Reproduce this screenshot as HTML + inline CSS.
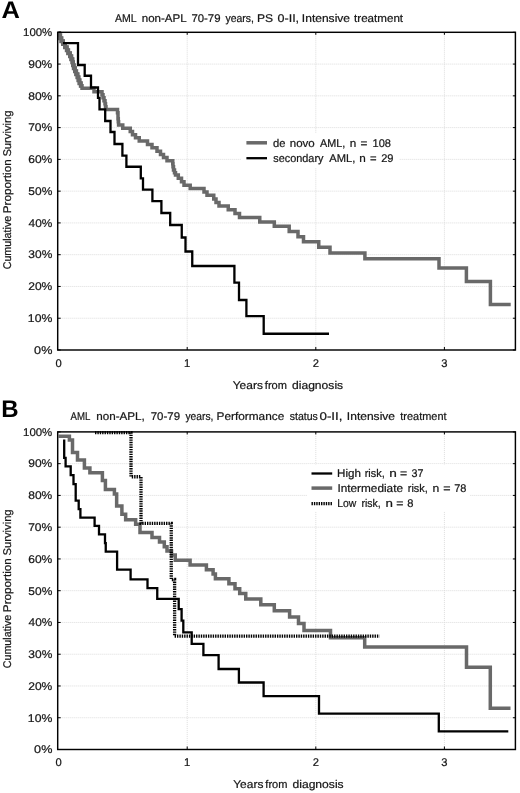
<!DOCTYPE html>
<html><head><meta charset="utf-8"><title>Kaplan-Meier survival curves</title>
<style>html,body{margin:0;padding:0;background:#fff}body{width:520px;height:793px;overflow:hidden;font-family:"Liberation Sans",sans-serif}svg{display:block;opacity:0.999;will-change:transform}text{stroke:#161616;stroke-width:.22px}</style>
</head><body>
<svg width="520" height="793" viewBox="0 0 520 793" font-family="Liberation Sans, sans-serif" font-size="11.2" fill="#161616" text-rendering="geometricPrecision">
<rect width="520" height="793" fill="#fff"/>
<line x1="57.7" x2="515.4" y1="64.07" y2="64.07" stroke="#dcdcdc" stroke-width="1" stroke-dasharray="1 1"/>
<line x1="57.7" x2="515.4" y1="95.84" y2="95.84" stroke="#dcdcdc" stroke-width="1" stroke-dasharray="1 1"/>
<line x1="57.7" x2="515.4" y1="127.61" y2="127.61" stroke="#dcdcdc" stroke-width="1" stroke-dasharray="1 1"/>
<line x1="57.7" x2="515.4" y1="159.38" y2="159.38" stroke="#dcdcdc" stroke-width="1" stroke-dasharray="1 1"/>
<line x1="57.7" x2="515.4" y1="191.15" y2="191.15" stroke="#dcdcdc" stroke-width="1" stroke-dasharray="1 1"/>
<line x1="57.7" x2="515.4" y1="222.92" y2="222.92" stroke="#dcdcdc" stroke-width="1" stroke-dasharray="1 1"/>
<line x1="57.7" x2="515.4" y1="254.69" y2="254.69" stroke="#dcdcdc" stroke-width="1" stroke-dasharray="1 1"/>
<line x1="57.7" x2="515.4" y1="286.46" y2="286.46" stroke="#dcdcdc" stroke-width="1" stroke-dasharray="1 1"/>
<line x1="57.7" x2="515.4" y1="318.23" y2="318.23" stroke="#dcdcdc" stroke-width="1" stroke-dasharray="1 1"/>
<line x1="187.2" x2="187.2" y1="32.3" y2="350.0" stroke="#dcdcdc" stroke-width="1" stroke-dasharray="1 1"/>
<line x1="315.8" x2="315.8" y1="32.3" y2="350.0" stroke="#dcdcdc" stroke-width="1" stroke-dasharray="1 1"/>
<line x1="444.4" x2="444.4" y1="32.3" y2="350.0" stroke="#dcdcdc" stroke-width="1" stroke-dasharray="1 1"/>
<rect x="241" y="133" width="158" height="35" fill="#fff"/>
<path d="M58.60,33.30V33.30H59.20V35.30H60.20V38.30H61.40V41.30H63.00V44.10H65.00V47.30H66.80V50.30H68.20V53.30H70.00V56.30H71.30V59.30H72.40V62.30H73.00V65.30H73.80V68.30H75.00V71.30H76.20V74.30H77.50V77.30H78.50V80.30H79.50V83.30H80.80V85.80H82.00" fill="none" stroke="#696969" stroke-width="4.0" stroke-linejoin="miter"/>
<path d="M58.60,33.30V33.30H59.20V35.30H60.20V38.30H61.40V41.30H63.00V44.10H65.00V47.30H66.80V50.30H68.20V53.30H70.00V56.30H71.30V59.30H72.40V62.30H73.00V65.30H73.80V68.30H75.00V71.30H76.20V74.30H77.50V77.30H78.50V80.30H79.50V83.30H80.80V85.80H82.00V88.30H94.00V91.80H102.00V94.80H103.00V97.80H104.00V100.80H105.00V103.80H105.50V106.80H106.00V109.60H117.50V112.80H118.00V115.80H118.00V118.80H118.30V121.80H118.60V125.05H122.75V128.30H130.25V131.50H132.50V134.80H135.50V137.80H139.25V141.10H147.50V144.55H152.00V147.80H157.00V151.30H160.50V154.50H163.50V157.60H167.00V160.80H172.75V163.80H173.00V166.80H173.50V170.05H174.50V172.80H175.50V175.05H178.30V178.30H181.50V181.80H184.00V185.30H190.20V188.55H204.00V192.00H207.00V195.30H213.75V199.05H216.00V202.50H219.00V206.00H228.25V209.80H235.00V213.60H239.50V217.50H259.75V222.00H274.30V226.30H289.20V231.50H298.00V236.70H303.50V241.80H318.75V247.30H330.00V252.90H364.90V258.80H439.00V267.90H466.40V281.60H490.40V304.50H510.70" fill="none" stroke="#696969" stroke-width="3.5" stroke-linejoin="miter"/>
<path d="M63.00,43.20V43.20H78.00V65.00H84.70V75.75H91.00V87.50H98.00V97.80H99.50V109.30H105.20V121.00H110.50V132.00H114.50V144.00H122.40V155.60H126.40V166.75H140.80V178.30H143.00V189.60H152.40V201.10H161.40V213.00H170.20V225.00H181.75V237.50H185.50V251.50H192.25V266.00H234.40V282.70H239.00V300.00H246.40V316.20H263.70V333.75H329.00" fill="none" stroke="#000" stroke-width="2.3" stroke-linejoin="miter"/>
<rect x="57.7" y="32.3" width="457.7" height="317.7" fill="none" stroke="#000" stroke-width="1.45"/>
<line x1="57.7" x2="60.7" y1="32.30" y2="32.30" stroke="#000" stroke-width="1"/>
<line x1="512.9" x2="515.4" y1="32.30" y2="32.30" stroke="#000" stroke-width="1"/>
<line x1="57.7" x2="60.7" y1="64.07" y2="64.07" stroke="#000" stroke-width="1"/>
<line x1="512.9" x2="515.4" y1="64.07" y2="64.07" stroke="#000" stroke-width="1"/>
<line x1="57.7" x2="60.7" y1="95.84" y2="95.84" stroke="#000" stroke-width="1"/>
<line x1="512.9" x2="515.4" y1="95.84" y2="95.84" stroke="#000" stroke-width="1"/>
<line x1="57.7" x2="60.7" y1="127.61" y2="127.61" stroke="#000" stroke-width="1"/>
<line x1="512.9" x2="515.4" y1="127.61" y2="127.61" stroke="#000" stroke-width="1"/>
<line x1="57.7" x2="60.7" y1="159.38" y2="159.38" stroke="#000" stroke-width="1"/>
<line x1="512.9" x2="515.4" y1="159.38" y2="159.38" stroke="#000" stroke-width="1"/>
<line x1="57.7" x2="60.7" y1="191.15" y2="191.15" stroke="#000" stroke-width="1"/>
<line x1="512.9" x2="515.4" y1="191.15" y2="191.15" stroke="#000" stroke-width="1"/>
<line x1="57.7" x2="60.7" y1="222.92" y2="222.92" stroke="#000" stroke-width="1"/>
<line x1="512.9" x2="515.4" y1="222.92" y2="222.92" stroke="#000" stroke-width="1"/>
<line x1="57.7" x2="60.7" y1="254.69" y2="254.69" stroke="#000" stroke-width="1"/>
<line x1="512.9" x2="515.4" y1="254.69" y2="254.69" stroke="#000" stroke-width="1"/>
<line x1="57.7" x2="60.7" y1="286.46" y2="286.46" stroke="#000" stroke-width="1"/>
<line x1="512.9" x2="515.4" y1="286.46" y2="286.46" stroke="#000" stroke-width="1"/>
<line x1="57.7" x2="60.7" y1="318.23" y2="318.23" stroke="#000" stroke-width="1"/>
<line x1="512.9" x2="515.4" y1="318.23" y2="318.23" stroke="#000" stroke-width="1"/>
<line x1="57.7" x2="60.7" y1="350.00" y2="350.00" stroke="#000" stroke-width="1"/>
<line x1="512.9" x2="515.4" y1="350.00" y2="350.00" stroke="#000" stroke-width="1"/>
<line x1="187.2" x2="187.2" y1="347.0" y2="350.0" stroke="#000" stroke-width="1"/>
<line x1="187.2" x2="187.2" y1="32.3" y2="34.8" stroke="#000" stroke-width="1"/>
<line x1="315.8" x2="315.8" y1="347.0" y2="350.0" stroke="#000" stroke-width="1"/>
<line x1="315.8" x2="315.8" y1="32.3" y2="34.8" stroke="#000" stroke-width="1"/>
<line x1="444.4" x2="444.4" y1="347.0" y2="350.0" stroke="#000" stroke-width="1"/>
<line x1="444.4" x2="444.4" y1="32.3" y2="34.8" stroke="#000" stroke-width="1"/>
<text x="23.03" y="36.10" textLength="29.28" lengthAdjust="spacingAndGlyphs">100%</text>
<text x="28.25" y="67.87" textLength="24.08" lengthAdjust="spacingAndGlyphs">90%</text>
<text x="28.28" y="99.64" textLength="24.04" lengthAdjust="spacingAndGlyphs">80%</text>
<text x="28.18" y="131.41" textLength="24.14" lengthAdjust="spacingAndGlyphs">70%</text>
<text x="28.20" y="163.18" textLength="24.13" lengthAdjust="spacingAndGlyphs">60%</text>
<text x="28.32" y="194.95" textLength="24.01" lengthAdjust="spacingAndGlyphs">50%</text>
<text x="28.54" y="226.72" textLength="23.78" lengthAdjust="spacingAndGlyphs">40%</text>
<text x="28.34" y="258.49" textLength="23.98" lengthAdjust="spacingAndGlyphs">30%</text>
<text x="28.20" y="290.26" textLength="24.13" lengthAdjust="spacingAndGlyphs">20%</text>
<text x="27.87" y="322.03" textLength="24.46" lengthAdjust="spacingAndGlyphs">10%</text>
<text x="34.11" y="353.80" textLength="18.24" lengthAdjust="spacingAndGlyphs">0%</text>
<text x="58.5" y="366.9" text-anchor="middle">0</text>
<text x="187.2" y="366.9" text-anchor="middle">1</text>
<text x="315.8" y="366.9" text-anchor="middle">2</text>
<text x="444.4" y="366.9" text-anchor="middle">3</text>
<line x1="246.4" x2="267" y1="142.8" y2="142.8" stroke="#696969" stroke-width="3.5"/>
<line x1="246.4" x2="267" y1="158.2" y2="158.2" stroke="#000" stroke-width="2.3"/>
<text x="273.03" y="146.5" textLength="12.47" lengthAdjust="spacingAndGlyphs">de</text>
<text x="289.74" y="146.5" textLength="24.99" lengthAdjust="spacingAndGlyphs">novo</text>
<text x="319.98" y="146.5" textLength="25.25" lengthAdjust="spacingAndGlyphs">AML,</text>
<text x="349.73" y="146.5" textLength="6.53" lengthAdjust="spacingAndGlyphs">n</text>
<text x="360.43" y="146.5" textLength="6.90" lengthAdjust="spacingAndGlyphs">=</text>
<text x="372.56" y="146.5" textLength="18.42" lengthAdjust="spacingAndGlyphs">108</text>
<text x="273.21" y="161.6" textLength="50.31" lengthAdjust="spacingAndGlyphs">secondary</text>
<text x="329.23" y="161.6" textLength="26.03" lengthAdjust="spacingAndGlyphs">AML,</text>
<text x="359.23" y="161.6" textLength="6.53" lengthAdjust="spacingAndGlyphs">n</text>
<text x="369.96" y="161.6" textLength="6.60" lengthAdjust="spacingAndGlyphs">=</text>
<text x="381.20" y="161.6" textLength="12.33" lengthAdjust="spacingAndGlyphs">29</text>
<text x="114.98" y="22.1" textLength="21.62" lengthAdjust="spacingAndGlyphs">AML</text>
<text x="141.74" y="22.1" textLength="44.90" lengthAdjust="spacingAndGlyphs">non-APL</text>
<text x="191.42" y="22.1" textLength="29.12" lengthAdjust="spacingAndGlyphs">70-79</text>
<text x="225.48" y="22.1" textLength="28.46" lengthAdjust="spacingAndGlyphs">years,</text>
<text x="257.01" y="22.1" textLength="16.03" lengthAdjust="spacingAndGlyphs">PS</text>
<text x="277.51" y="22.1" textLength="21.61" lengthAdjust="spacingAndGlyphs">0-II,</text>
<text x="301.89" y="22.1" textLength="48.14" lengthAdjust="spacingAndGlyphs">Intensive</text>
<text x="354.08" y="22.1" textLength="49.01" lengthAdjust="spacingAndGlyphs">treatment</text>
<g transform="translate(11.1,268.8) rotate(-90)"><text x="-0.53" y="0" textLength="53.51" lengthAdjust="spacingAndGlyphs">Cumulative</text>
<text x="55.54" y="0" textLength="54.01" lengthAdjust="spacingAndGlyphs">Proportion</text>
<text x="112.20" y="0" textLength="46.12" lengthAdjust="spacingAndGlyphs">Surviving</text>
</g>
<text x="232.74" y="388.6" textLength="30.19" lengthAdjust="spacingAndGlyphs">Years</text>
<text x="264.85" y="388.6" textLength="22.12" lengthAdjust="spacingAndGlyphs">from</text>
<text x="291.99" y="388.6" textLength="51.15" lengthAdjust="spacingAndGlyphs">diagnosis</text>
<text x="1.6" y="18.1" font-size="24" font-weight="bold" fill="#000" textLength="18.4" lengthAdjust="spacingAndGlyphs" style="stroke:none">A</text>
<line x1="57.7" x2="515.4" y1="463.66" y2="463.66" stroke="#dcdcdc" stroke-width="1" stroke-dasharray="1 1"/>
<line x1="57.7" x2="515.4" y1="495.42" y2="495.42" stroke="#dcdcdc" stroke-width="1" stroke-dasharray="1 1"/>
<line x1="57.7" x2="515.4" y1="527.18" y2="527.18" stroke="#dcdcdc" stroke-width="1" stroke-dasharray="1 1"/>
<line x1="57.7" x2="515.4" y1="558.94" y2="558.94" stroke="#dcdcdc" stroke-width="1" stroke-dasharray="1 1"/>
<line x1="57.7" x2="515.4" y1="590.70" y2="590.70" stroke="#dcdcdc" stroke-width="1" stroke-dasharray="1 1"/>
<line x1="57.7" x2="515.4" y1="622.46" y2="622.46" stroke="#dcdcdc" stroke-width="1" stroke-dasharray="1 1"/>
<line x1="57.7" x2="515.4" y1="654.22" y2="654.22" stroke="#dcdcdc" stroke-width="1" stroke-dasharray="1 1"/>
<line x1="57.7" x2="515.4" y1="685.98" y2="685.98" stroke="#dcdcdc" stroke-width="1" stroke-dasharray="1 1"/>
<line x1="57.7" x2="515.4" y1="717.74" y2="717.74" stroke="#dcdcdc" stroke-width="1" stroke-dasharray="1 1"/>
<line x1="187.2" x2="187.2" y1="431.9" y2="749.5" stroke="#dcdcdc" stroke-width="1" stroke-dasharray="1 1"/>
<line x1="315.8" x2="315.8" y1="431.9" y2="749.5" stroke="#dcdcdc" stroke-width="1" stroke-dasharray="1 1"/>
<line x1="444.4" x2="444.4" y1="431.9" y2="749.5" stroke="#dcdcdc" stroke-width="1" stroke-dasharray="1 1"/>
<rect x="307" y="464.5" width="163" height="47" fill="#fff"/>
<path d="M64.20,439.50V457.90H65.60V466.40H70.70V475.10H73.50V484.10H75.70V500.70H78.70V509.10H80.40V517.60H94.60V525.90H99.00V534.30H105.00V543.10H105.75V551.60H117.10V569.70H130.60V579.30H147.50V588.10H157.25V598.90H178.70V609.10H181.60V620.60H183.30V632.40H191.70V643.80H203.40V655.10H218.60V669.00H238.90V682.50H263.60V696.10H319.00V713.70H438.80V731.40H508.30" fill="none" stroke="#000" stroke-width="2.3" stroke-linejoin="miter"/>
<path d="M58.60,436.25V436.25H69.40V440.00H72.50V452.50H77.50V460.00H84.40V468.10H89.90V472.75H102.40V480.50H105.40V489.50H114.40V494.00H116.65V506.00H121.90V514.25H125.65V519.80H135.65V524.35H140.00V532.60H152.00V537.60H159.50V542.10H164.30V546.85H167.00V550.90H171.50V555.10H175.25V560.30H190.10V565.10H206.40V569.70H213.10V574.10H215.40V578.70H228.90V583.85H235.00V588.80H239.70V593.50H245.75V598.90H260.80V604.80H274.30V610.85H289.60V617.10H298.50V623.50H304.00V630.40H330.50V637.85H364.70V646.90H466.50V667.20H490.30V708.30H510.50" fill="none" stroke="#696969" stroke-width="3.5" stroke-linejoin="miter"/>
<rect x="57.7" y="431.9" width="457.7" height="317.6" fill="none" stroke="#000" stroke-width="1.45"/>
<line x1="57.7" x2="60.7" y1="431.90" y2="431.90" stroke="#000" stroke-width="1"/>
<line x1="512.9" x2="515.4" y1="431.90" y2="431.90" stroke="#000" stroke-width="1"/>
<line x1="57.7" x2="60.7" y1="463.66" y2="463.66" stroke="#000" stroke-width="1"/>
<line x1="512.9" x2="515.4" y1="463.66" y2="463.66" stroke="#000" stroke-width="1"/>
<line x1="57.7" x2="60.7" y1="495.42" y2="495.42" stroke="#000" stroke-width="1"/>
<line x1="512.9" x2="515.4" y1="495.42" y2="495.42" stroke="#000" stroke-width="1"/>
<line x1="57.7" x2="60.7" y1="527.18" y2="527.18" stroke="#000" stroke-width="1"/>
<line x1="512.9" x2="515.4" y1="527.18" y2="527.18" stroke="#000" stroke-width="1"/>
<line x1="57.7" x2="60.7" y1="558.94" y2="558.94" stroke="#000" stroke-width="1"/>
<line x1="512.9" x2="515.4" y1="558.94" y2="558.94" stroke="#000" stroke-width="1"/>
<line x1="57.7" x2="60.7" y1="590.70" y2="590.70" stroke="#000" stroke-width="1"/>
<line x1="512.9" x2="515.4" y1="590.70" y2="590.70" stroke="#000" stroke-width="1"/>
<line x1="57.7" x2="60.7" y1="622.46" y2="622.46" stroke="#000" stroke-width="1"/>
<line x1="512.9" x2="515.4" y1="622.46" y2="622.46" stroke="#000" stroke-width="1"/>
<line x1="57.7" x2="60.7" y1="654.22" y2="654.22" stroke="#000" stroke-width="1"/>
<line x1="512.9" x2="515.4" y1="654.22" y2="654.22" stroke="#000" stroke-width="1"/>
<line x1="57.7" x2="60.7" y1="685.98" y2="685.98" stroke="#000" stroke-width="1"/>
<line x1="512.9" x2="515.4" y1="685.98" y2="685.98" stroke="#000" stroke-width="1"/>
<line x1="57.7" x2="60.7" y1="717.74" y2="717.74" stroke="#000" stroke-width="1"/>
<line x1="512.9" x2="515.4" y1="717.74" y2="717.74" stroke="#000" stroke-width="1"/>
<line x1="57.7" x2="60.7" y1="749.50" y2="749.50" stroke="#000" stroke-width="1"/>
<line x1="512.9" x2="515.4" y1="749.50" y2="749.50" stroke="#000" stroke-width="1"/>
<line x1="187.2" x2="187.2" y1="746.5" y2="749.5" stroke="#000" stroke-width="1"/>
<line x1="187.2" x2="187.2" y1="431.9" y2="434.4" stroke="#000" stroke-width="1"/>
<line x1="315.8" x2="315.8" y1="746.5" y2="749.5" stroke="#000" stroke-width="1"/>
<line x1="315.8" x2="315.8" y1="431.9" y2="434.4" stroke="#000" stroke-width="1"/>
<line x1="444.4" x2="444.4" y1="746.5" y2="749.5" stroke="#000" stroke-width="1"/>
<line x1="444.4" x2="444.4" y1="431.9" y2="434.4" stroke="#000" stroke-width="1"/>
<path d="M95.00,432.60V432.60H131.00V476.75H141.00V523.40H171.25V579.50H174.60V636.20H379.50" fill="none" stroke="#000" stroke-width="3.3" stroke-dasharray="1.4 0.98"/>
<text x="23.03" y="435.70" textLength="29.28" lengthAdjust="spacingAndGlyphs">100%</text>
<text x="28.25" y="467.46" textLength="24.08" lengthAdjust="spacingAndGlyphs">90%</text>
<text x="28.28" y="499.22" textLength="24.04" lengthAdjust="spacingAndGlyphs">80%</text>
<text x="28.18" y="530.98" textLength="24.14" lengthAdjust="spacingAndGlyphs">70%</text>
<text x="28.20" y="562.74" textLength="24.13" lengthAdjust="spacingAndGlyphs">60%</text>
<text x="28.32" y="594.50" textLength="24.01" lengthAdjust="spacingAndGlyphs">50%</text>
<text x="28.54" y="626.26" textLength="23.78" lengthAdjust="spacingAndGlyphs">40%</text>
<text x="28.34" y="658.02" textLength="23.98" lengthAdjust="spacingAndGlyphs">30%</text>
<text x="28.20" y="689.78" textLength="24.13" lengthAdjust="spacingAndGlyphs">20%</text>
<text x="27.87" y="721.54" textLength="24.46" lengthAdjust="spacingAndGlyphs">10%</text>
<text x="34.11" y="753.30" textLength="18.24" lengthAdjust="spacingAndGlyphs">0%</text>
<text x="58.5" y="765.7" text-anchor="middle">0</text>
<text x="187.2" y="765.7" text-anchor="middle">1</text>
<text x="315.8" y="765.7" text-anchor="middle">2</text>
<text x="444.4" y="765.7" text-anchor="middle">3</text>
<line x1="311.5" x2="332.2" y1="473.5" y2="473.5" stroke="#000" stroke-width="2.3"/>
<line x1="311.5" x2="332.2" y1="488.1" y2="488.1" stroke="#696969" stroke-width="3.5"/>
<line x1="311.5" x2="332.2" y1="503.6" y2="503.6" stroke="#000" stroke-width="3.3" stroke-dasharray="1.4 0.98"/>
<text x="337.05" y="476.6" textLength="23.89" lengthAdjust="spacingAndGlyphs">High</text>
<text x="364.68" y="476.6" textLength="20.00" lengthAdjust="spacingAndGlyphs">risk,</text>
<text x="389.30" y="476.6" textLength="7.57" lengthAdjust="spacingAndGlyphs">n</text>
<text x="400.11" y="476.6" textLength="7.19" lengthAdjust="spacingAndGlyphs">=</text>
<text x="411.59" y="476.6" textLength="11.95" lengthAdjust="spacingAndGlyphs">37</text>
<text x="337.41" y="491.6" textLength="65.61" lengthAdjust="spacingAndGlyphs">Intermediate</text>
<text x="407.78" y="491.6" textLength="20.00" lengthAdjust="spacingAndGlyphs">risk,</text>
<text x="432.59" y="491.6" textLength="6.79" lengthAdjust="spacingAndGlyphs">n</text>
<text x="443.20" y="491.6" textLength="7.31" lengthAdjust="spacingAndGlyphs">=</text>
<text x="454.24" y="491.6" textLength="12.24" lengthAdjust="spacingAndGlyphs">78</text>
<text x="337.15" y="506.7" textLength="19.02" lengthAdjust="spacingAndGlyphs">Low</text>
<text x="361.51" y="506.7" textLength="19.24" lengthAdjust="spacingAndGlyphs">risk,</text>
<text x="385.42" y="506.7" textLength="7.44" lengthAdjust="spacingAndGlyphs">n</text>
<text x="396.21" y="506.7" textLength="7.19" lengthAdjust="spacingAndGlyphs">=</text>
<text x="407.27" y="506.7" textLength="6.21" lengthAdjust="spacingAndGlyphs">8</text>
<text x="70.48" y="420.4" textLength="19.84" lengthAdjust="spacingAndGlyphs">AML</text>
<text x="96.23" y="420.4" textLength="48.56" lengthAdjust="spacingAndGlyphs">non-APL,</text>
<text x="150.66" y="420.4" textLength="29.38" lengthAdjust="spacingAndGlyphs">70-79</text>
<text x="185.48" y="420.4" textLength="27.95" lengthAdjust="spacingAndGlyphs">years,</text>
<text x="216.53" y="420.4" textLength="67.74" lengthAdjust="spacingAndGlyphs">Performance</text>
<text x="289.71" y="420.4" textLength="28.16" lengthAdjust="spacingAndGlyphs">status</text>
<text x="319.48" y="420.4" textLength="22.97" lengthAdjust="spacingAndGlyphs">0-II,</text>
<text x="346.89" y="420.4" textLength="48.14" lengthAdjust="spacingAndGlyphs">Intensive</text>
<text x="400.34" y="420.4" textLength="46.24" lengthAdjust="spacingAndGlyphs">treatment</text>
<g transform="translate(11.1,667.7) rotate(-90)"><text x="-0.53" y="0" textLength="53.51" lengthAdjust="spacingAndGlyphs">Cumulative</text>
<text x="55.54" y="0" textLength="54.01" lengthAdjust="spacingAndGlyphs">Proportion</text>
<text x="112.20" y="0" textLength="46.12" lengthAdjust="spacingAndGlyphs">Surviving</text>
</g>
<text x="233.24" y="787.9" textLength="30.19" lengthAdjust="spacingAndGlyphs">Years</text>
<text x="265.35" y="787.9" textLength="22.12" lengthAdjust="spacingAndGlyphs">from</text>
<text x="292.49" y="787.9" textLength="51.15" lengthAdjust="spacingAndGlyphs">diagnosis</text>
<text x="1.3" y="417.2" font-size="24" font-weight="bold" fill="#000" style="stroke:none">B</text>
</svg>
</body></html>
